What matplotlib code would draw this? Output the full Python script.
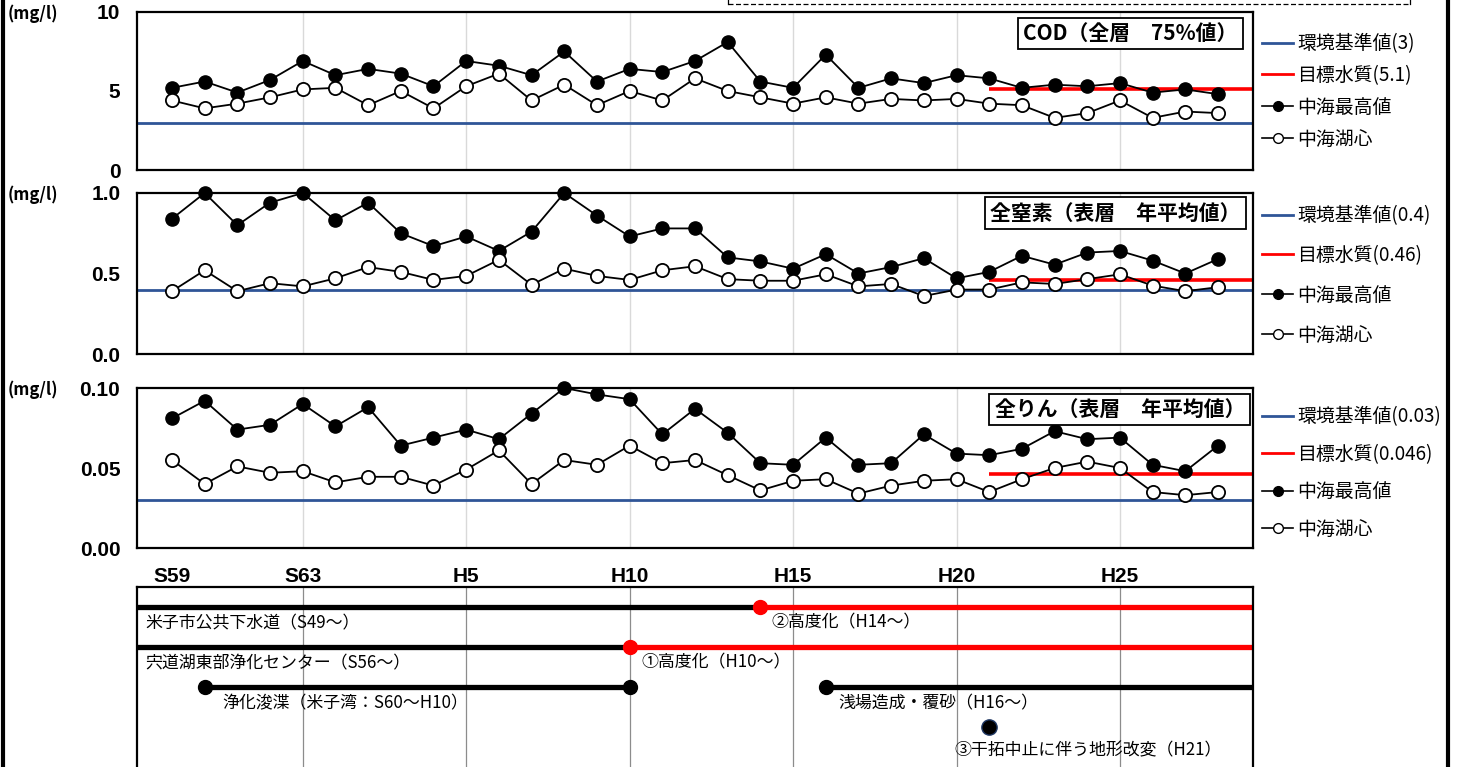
import matplotlib
matplotlib.use("Agg")
import matplotlib.pyplot as plt
from matplotlib.lines import Line2D

plt.rcParams['font.family'] = ['Noto Sans CJK JP', 'DejaVu Sans']

# ---- data -------------------------------------------------------------
years = list(range(1984, 2017))

cod_max = [5.2, 5.6, 4.9, 5.7, 6.9, 6.0, 6.4, 6.1, 5.3, 6.9, 6.6, 6.0, 7.5, 5.6,
           6.4, 6.2, 6.9, 8.1, 5.6, 5.2, 7.3, 5.2, 5.8, 5.5, 6.0, 5.8, 5.2, 5.4,
           5.3, 5.5, 4.9, 5.1, 4.8]
cod_center = [4.4, 3.9, 4.2, 4.6, 5.1, 5.2, 4.1, 5.0, 3.9, 5.3, 6.1, 4.4, 5.4, 4.1,
              5.0, 4.4, 5.8, 5.0, 4.6, 4.2, 4.6, 4.2, 4.5, 4.4, 4.5, 4.2, 4.1, 3.3,
              3.6, 4.4, 3.3, 3.7, 3.6]

tn_max = [0.84, 1.00, 0.80, 0.94, 1.00, 0.83, 0.94, 0.75, 0.67, 0.73, 0.64, 0.76,
          1.00, 0.86, 0.73, 0.78, 0.78, 0.60, 0.575, 0.53, 0.62, 0.50, 0.54, 0.595,
          0.47, 0.51, 0.61, 0.555, 0.63, 0.64, 0.58, 0.50, 0.59]
tn_center = [0.39, 0.52, 0.39, 0.44, 0.42, 0.47, 0.54, 0.51, 0.46, 0.485, 0.585,
             0.43, 0.53, 0.485, 0.46, 0.52, 0.545, 0.465, 0.455, 0.455, 0.495,
             0.42, 0.435, 0.36, 0.40, 0.40, 0.445, 0.435, 0.465, 0.495, 0.425,
             0.39, 0.415]

tp_max = [0.081, 0.092, 0.074, 0.077, 0.090, 0.076, 0.088, 0.064, 0.069, 0.074,
          0.068, 0.084, 0.100, 0.096, 0.093, 0.071, 0.087, 0.072, 0.053, 0.052,
          0.069, 0.052, 0.053, 0.071, 0.059, 0.058, 0.062, 0.073, 0.068, 0.069,
          0.052, 0.048, 0.064]
tp_center = [0.055, 0.040, 0.051, 0.047, 0.048, 0.041, 0.0445, 0.0445, 0.039,
             0.049, 0.061, 0.040, 0.055, 0.052, 0.064, 0.053, 0.055, 0.0455,
             0.036, 0.042, 0.043, 0.034, 0.039, 0.042, 0.043, 0.035, 0.043,
             0.050, 0.054, 0.050, 0.035, 0.033, 0.035]

grid_years = [1988, 1993, 1998, 2003, 2008, 2013]
tick_years = [1984, 1988, 1993, 1998, 2003, 2008, 2013]
tick_labels = ["S59", "S63", "H5", "H10", "H15", "H20", "H25"]
target_start = 2009

panels = [
    dict(title="COD（全層　75%値）", vmax=cod_max, vcen=cod_center,
         std=3, target=5.1, ylim=(0, 10), yticks=[0, 5, 10],
         ylabels=["0", "5", "10"],
         std_label="環境基準値(3)", target_label="目標水質(5.1)"),
    dict(title="全窒素（表層　年平均値）", vmax=tn_max, vcen=tn_center,
         std=0.4, target=0.46, ylim=(0, 1.0), yticks=[0, 0.5, 1.0],
         ylabels=["0.0", "0.5", "1.0"],
         std_label="環境基準値(0.4)", target_label="目標水質(0.46)"),
    dict(title="全りん（表層　年平均値）", vmax=tp_max, vcen=tp_center,
         std=0.03, target=0.046, ylim=(0, 0.10), yticks=[0, 0.05, 0.10],
         ylabels=["0.00", "0.05", "0.10"],
         std_label="環境基準値(0.03)", target_label="目標水質(0.046)"),
]
series_labels = ["中海最高値", "中海湖心"]

# timeline of measures
sewer_rows = [("米子市公共下水道（S49～）", 2002, "②高度化（H14～）"),
              ("宍道湖東部浄化センター（S56～）", 1998, "①高度化（H10～）")]
dredge_span = (1985, 1998)
dredge_label = "浄化浚渫（米子湾：S60～H10）"
shoal_start = 2004
shoal_label = "浅場造成・覆砂（H16～）"
reclaim_year = 2009
reclaim_label = "③干拓中止に伴う地形改変（H21）"

# ---- style ------------------------------------------------------------
BLUE = "#2F5597"
RED = "#FF0000"
XMIN, XMAX = 1982.93, 2017.07
W, H = 1467, 767
TL_FS = 12.2

fig = plt.figure(figsize=(W / 100, H / 100), dpi=100)


def box(x0, y0, x1, y1):
    """Figure-fraction rectangle from pixel edges (y measured from top)."""
    return [x0 / W, 1 - y1 / H, (x1 - x0) / W, (y1 - y0) / H]


panel_px = [(12, 170), (193, 354), (388, 548)]
legend_cfg = [(0.865, 0.57), (0.923, 0.99), (0.886, 0.875)]
title_pos = [(0.986, 0.93), (0.989, 0.94), (0.993, 0.93)]

axes = []
for p, (y0, y1), (lg_y, lg_sp), (tx, ty) in zip(panels, panel_px, legend_cfg, title_pos):
    ax = fig.add_axes(box(137, y0, 1253, y1))
    axes.append(ax)
    ax.set_xlim(XMIN, XMAX)
    ax.set_ylim(*p["ylim"])
    for gx in grid_years:
        ax.axvline(gx, color="#D9D9D9", lw=1.0, zorder=0)
    ax.axhline(p["std"], color=BLUE, lw=2.0, zorder=1)
    ax.plot([target_start, XMAX], [p["target"]] * 2, color=RED, lw=2.6, zorder=1,
            solid_capstyle="butt")
    ax.plot(years, p["vmax"], color="black", lw=1.3, marker="o", ms=9.5,
            mfc="black", mec="black", zorder=3, clip_on=False)
    ax.plot(years, p["vcen"], color="black", lw=1.3, marker="o", ms=9.5,
            mfc="white", mec="black", mew=1.3, zorder=3, clip_on=False)
    ax.set_yticks(p["yticks"])
    ax.set_yticklabels(p["ylabels"], fontfamily="Liberation Sans",
                       fontweight="bold", fontsize=15)
    ax.tick_params(axis="y", length=0, pad=12)
    ax.tick_params(axis="x", length=0)
    ax.set_xticks([])
    for s in ax.spines.values():
        s.set_linewidth(1.6)
        s.set_color("black")
    ax.text(tx, ty, p["title"], transform=ax.transAxes, ha="right", va="top",
            fontsize=15, fontweight="bold", zorder=5,
            bbox=dict(boxstyle="square,pad=0.25", fc="white", ec="black", lw=1.3))
    handles = [
        Line2D([], [], color=BLUE, lw=2.0),
        Line2D([], [], color=RED, lw=2.0),
        Line2D([], [], color="black", lw=1.2, marker="o", ms=7, mfc="black"),
        Line2D([], [], color="black", lw=1.2, marker="o", ms=7, mfc="white"),
    ]
    labels = [p["std_label"], p["target_label"]] + series_labels
    ax.legend(handles, labels, loc="upper left", bbox_to_anchor=(1.008, lg_y),
              frameon=False, fontsize=13.6, borderpad=0, borderaxespad=0,
              handlelength=1.65, handletextpad=0.2, labelspacing=lg_sp,
              numpoints=1)
    fig.text(8 / W, 1 - (y0 + 2) / H, "(mg/l)", fontsize=12, fontweight="bold",
             ha="left", va="center")

# era labels under the last panel
ax = axes[-1]
ax.set_xticks(tick_years)
ax.set_xticklabels(tick_labels, fontfamily="Liberation Sans", fontweight="bold",
                   fontsize=15)
ax.tick_params(axis="x", length=0, pad=14)

# ---- timeline ---------------------------------------------------------
axt = fig.add_axes(box(137, 587, 1253, 800))
axt.set_xlim(XMIN, XMAX)
axt.set_ylim(800, 587)
axt.set_xticks([])
axt.set_yticks([])
for s in axt.spines.values():
    s.set_linewidth(1.6)
for gx in grid_years:
    axt.axvline(gx, color="#8C8C8C", lw=0.9, zorder=0)

LW = 3.8
row_y = [607, 647, 687, 727]
for (name, up, up_label), ry in zip(sewer_rows, row_y[:2]):
    axt.plot([XMIN, up], [ry, ry], color="black", lw=LW, solid_capstyle="butt")
    axt.plot([up, XMAX], [ry, ry], color=RED, lw=LW, solid_capstyle="butt")
    axt.plot([up], [ry], "o", color=RED, ms=10, zorder=4)
    axt.text(XMIN + 0.25, ry + 16, name, fontsize=TL_FS, ha="left", va="center")
    axt.text(up + 0.35, ry + 15, up_label, fontsize=TL_FS, ha="left", va="center")

ry = row_y[2]
axt.plot(dredge_span, [ry, ry], color="black", lw=LW, marker="o", ms=10,
         solid_capstyle="butt")
axt.text(dredge_span[0] + 0.55, ry + 16, dredge_label, fontsize=TL_FS,
         ha="left", va="center")
axt.plot([shoal_start, XMAX], [ry, ry], color="black", lw=LW,
         solid_capstyle="butt")
axt.plot([shoal_start], [ry], "o", color="black", ms=10)
axt.text(shoal_start + 0.37, ry + 16, shoal_label, fontsize=TL_FS,
         ha="left", va="center")

ry = row_y[3]
axt.plot([reclaim_year], [ry], "o", mfc="black", mec="#1F3864", ms=11)
axt.text(reclaim_year - 1.06, ry + 23, reclaim_label, fontsize=TL_FS,
         ha="left", va="center")

# ---- outer page decorations -------------------------------------------
fig.add_artist(Line2D([3 / W, 3 / W], [0, 1], color="black", lw=3))
fig.add_artist(Line2D([1448 / W, 1448 / W], [0, 1], color="black", lw=3))
fig.add_artist(Line2D([728 / W, 1410 / W], [1 - 4 / H, 1 - 4 / H], color="black",
                      lw=0.9, ls=(0, (4, 2))))
fig.add_artist(Line2D([728 / W, 728 / W], [1 - 4 / H, 1], color="black", lw=0.9))
fig.add_artist(Line2D([1410 / W, 1410 / W], [1 - 4 / H, 1], color="black", lw=0.9))

fig.savefig("out.png", dpi=100)
